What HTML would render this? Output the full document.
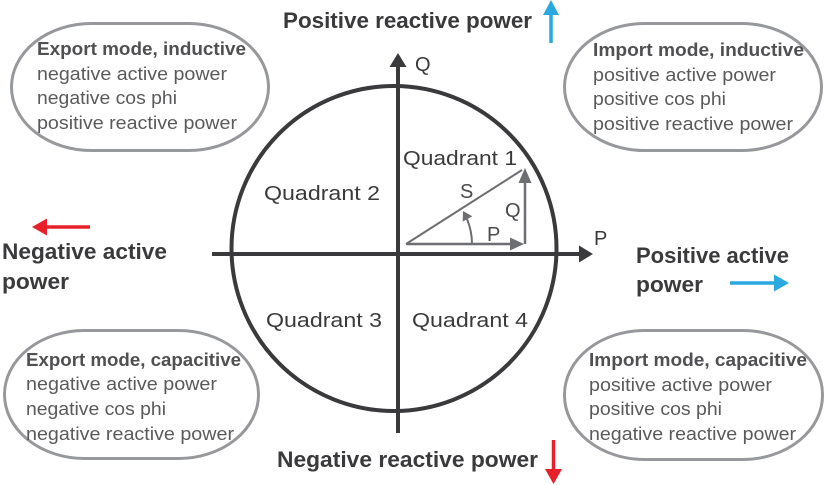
<!DOCTYPE html>
<html>
<head>
<meta charset="utf-8">
<style>
  html, body { margin: 0; padding: 0; background: #fff; }
  svg { display: block; }
  text { font-family: "Liberation Sans", "DejaVu Sans", sans-serif; }
  .hb { font-weight: bold; font-size: 22px; fill: #3a3a3c; }
  .bh { font-weight: bold; font-size: 18px; fill: #505053; }
  .bt { font-size: 18px; fill: #5a5a5c; }
  .q  { font-size: 20.5px; fill: #3a3a3c; }
  .ax { font-size: 20px; fill: #3a3a3c; }
  .tl { font-size: 20px; fill: #4a4a4c; }
</style>
</head>
<body>
<svg width="825" height="485" viewBox="0 0 825 485" xmlns="http://www.w3.org/2000/svg">
  <rect x="0" y="0" width="825" height="485" fill="#fff"/>

  <!-- Bubbles -->
  <rect x="11.5" y="23.5" width="257" height="127" rx="80" ry="63.5" fill="none" stroke="#97989b" stroke-width="3"/>
  <rect x="564.5" y="23.5" width="257" height="127" rx="80" ry="63.5" fill="none" stroke="#97989b" stroke-width="3"/>
  <rect x="4.5" y="330.5" width="254" height="128" rx="80" ry="64" fill="none" stroke="#97989b" stroke-width="3"/>
  <rect x="564.5" y="330.5" width="258" height="129" rx="80" ry="64" fill="none" stroke="#97989b" stroke-width="3"/>

  <!-- Bubble text: top-left -->
  <text class="bh" x="37" y="55" textLength="209" lengthAdjust="spacingAndGlyphs">Export mode, inductive</text>
  <text class="bt" x="37" y="80" textLength="190" lengthAdjust="spacingAndGlyphs">negative active power</text>
  <text class="bt" x="37" y="104" textLength="140" lengthAdjust="spacingAndGlyphs">negative cos phi</text>
  <text class="bt" x="37" y="129" textLength="200" lengthAdjust="spacingAndGlyphs">positive reactive power</text>

  <!-- Bubble text: top-right -->
  <text class="bh" x="593" y="56" textLength="211" lengthAdjust="spacingAndGlyphs">Import mode, inductive</text>
  <text class="bt" x="593" y="81" textLength="183" lengthAdjust="spacingAndGlyphs">positive active power</text>
  <text class="bt" x="593" y="105" textLength="133" lengthAdjust="spacingAndGlyphs">positive cos phi</text>
  <text class="bt" x="593" y="130" textLength="200" lengthAdjust="spacingAndGlyphs">positive reactive power</text>

  <!-- Bubble text: bottom-left -->
  <text class="bh" x="26" y="366" textLength="215" lengthAdjust="spacingAndGlyphs">Export mode, capacitive</text>
  <text class="bt" x="26" y="390" textLength="191" lengthAdjust="spacingAndGlyphs">negative active power</text>
  <text class="bt" x="26" y="415" textLength="140" lengthAdjust="spacingAndGlyphs">negative cos phi</text>
  <text class="bt" x="26" y="440" textLength="208" lengthAdjust="spacingAndGlyphs">negative reactive power</text>

  <!-- Bubble text: bottom-right -->
  <text class="bh" x="589" y="366" textLength="218" lengthAdjust="spacingAndGlyphs">Import mode, capacitive</text>
  <text class="bt" x="589" y="391" textLength="183" lengthAdjust="spacingAndGlyphs">positive active power</text>
  <text class="bt" x="589" y="415" textLength="133" lengthAdjust="spacingAndGlyphs">positive cos phi</text>
  <text class="bt" x="589" y="440" textLength="207" lengthAdjust="spacingAndGlyphs">negative reactive power</text>

  <!-- Bold header labels -->
  <text class="hb" x="283" y="28" textLength="249" lengthAdjust="spacingAndGlyphs">Positive reactive power</text>
  <text class="hb" x="277" y="467" textLength="261" lengthAdjust="spacingAndGlyphs">Negative reactive power</text>
  <text class="hb" x="2" y="259" textLength="165" lengthAdjust="spacingAndGlyphs">Negative active</text>
  <text class="hb" x="2" y="289" textLength="67" lengthAdjust="spacingAndGlyphs">power</text>
  <text class="hb" x="636" y="263" textLength="153" lengthAdjust="spacingAndGlyphs">Positive active</text>
  <text class="hb" x="636" y="292" textLength="67" lengthAdjust="spacingAndGlyphs">power</text>

  <!-- Colored arrows -->
  <line x1="551" y1="43" x2="551" y2="13" stroke="#29a9e0" stroke-width="3.5"/>
  <polygon points="543,15 551,0 559,15" fill="#29a9e0"/>

  <line x1="553.5" y1="440" x2="553.5" y2="471" stroke="#e8202a" stroke-width="3.5"/>
  <polygon points="545,469 562,469 553.5,484" fill="#e8202a"/>

  <line x1="90" y1="227" x2="45" y2="227" stroke="#e8202a" stroke-width="3.5"/>
  <polygon points="47,218.5 47,235.5 32,227" fill="#e8202a"/>

  <line x1="730" y1="283" x2="776" y2="283" stroke="#29a9e0" stroke-width="3.5"/>
  <polygon points="774,274.5 774,291.5 789,283" fill="#29a9e0"/>

  <!-- Circle -->
  <circle cx="394" cy="248.5" r="162.5" fill="none" stroke="#3a3a3c" stroke-width="4"/>

  <!-- Axes -->
  <line x1="212" y1="254" x2="581" y2="254" stroke="#3a3a3c" stroke-width="4"/>
  <polygon points="579,245.5 579,262.5 593,254" fill="#3a3a3c"/>
  <line x1="398" y1="433" x2="398" y2="65" stroke="#3a3a3c" stroke-width="4"/>
  <polygon points="389.5,67 406.5,67 398,53" fill="#3a3a3c"/>

  <text class="ax" x="415" y="71">Q</text>
  <text class="ax" x="594" y="245">P</text>

  <!-- Quadrant labels -->
  <text class="q" x="264" y="200" textLength="116" lengthAdjust="spacingAndGlyphs">Quadrant 2</text>
  <text class="q" x="403" y="165" textLength="114" lengthAdjust="spacingAndGlyphs">Quadrant 1</text>
  <text class="q" x="266" y="327" textLength="116" lengthAdjust="spacingAndGlyphs">Quadrant 3</text>
  <text class="q" x="412" y="327" textLength="116" lengthAdjust="spacingAndGlyphs">Quadrant 4</text>

  <!-- Power triangle -->
  <g stroke="#6d6e71" fill="none">
    <line x1="406" y1="244" x2="522" y2="170" stroke-width="2"/>
    <line x1="406" y1="244" x2="512" y2="244" stroke-width="2.5"/>
    <line x1="525" y1="244" x2="525" y2="181" stroke-width="2.5"/>
    <path d="M 472 244 A 66 66 0 0 0 467 219" stroke-width="2"/>
  </g>
  <g fill="#6d6e71">
    <polygon points="510,237.5 510,250.5 524,244"/>
    <polygon points="518.5,183 531.5,183 525,168"/>
    <polygon points="463,211 472.3,216.2 462.7,221.6"/>
  </g>
  <text class="tl" x="460" y="198">S</text>
  <text class="tl" x="505" y="217">Q</text>
  <text class="tl" x="487" y="241">P</text>
</svg>
</body>
</html>
